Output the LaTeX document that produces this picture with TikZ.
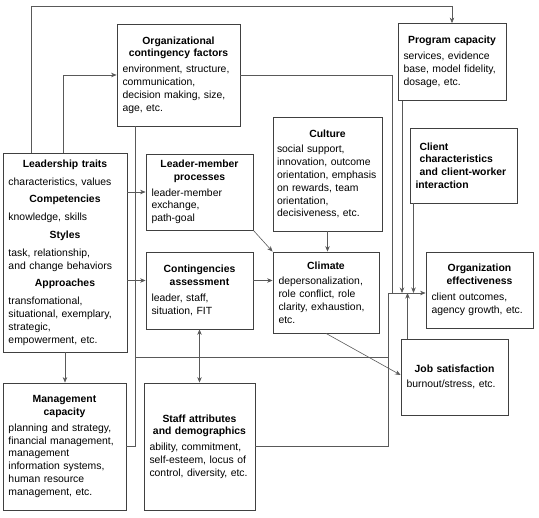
\documentclass[tikz,border=0pt]{standalone}
\usepackage{fontspec}
\setmainfont{Liberation Sans}
\usetikzlibrary{arrows.meta}
\newcommand{\hd}[1]{{\centering\bfseries #1\par}\vspace{3pt}}
\begin{document}
\begin{tikzpicture}[x=1pt,y=-1pt,
      >={Stealth[length=5.5pt,width=4.5pt]},
      box/.style={draw=black!75,line width=0.8pt,inner xsep=5.5pt,inner ysep=3pt,
        align=left,font=\fontsize{10.4}{12.8}\selectfont},
      link/.style={draw=black!65,line width=0.6pt}]
      \useasboundingbox (0,0) rectangle (539,518);
      \node[box,text width=112pt,minimum height=102pt] (ocf) at (178.5,75)
        {\hd{Organizational\\ contingency factors}environment, structure,\\ communication,\\ decision making, size,\\ age, etc.};
      \node[box,text width=97pt,minimum height=77pt] (pc) at (452,62)
        {\hd{Program capacity}services, evidence\\ base, model fidelity,\\ dosage, etc.};
      \node[box,inner xsep=4pt,text width=101pt,minimum height=114pt] (cult) at (327.5,174)
        {\hd{Culture}social support,\\ innovation, outcome\\ orientation, emphasis\\ on rewards, team\\ orientation,\\ decisiveness, etc.};
      \node[box,text width=95pt,minimum height=81pt] (clim) at (326,292.5)
        {\hd{Climate}depersonalization,\\ role conflict, role\\ clarity, exhaustion,\\ etc.};
      \node[box,text width=96pt,minimum height=75pt] (cc) at (463.5,165.5)
        {\leftskip=4pt\bfseries Client\\ characteristics\\ and client-worker\\ interaction};
      \node[box,text width=96pt,minimum height=76pt] (oe) at (479.5,290)
        {\hd{Organization\\ effectiveness}client outcomes,\\ agency growth, etc.};
      \node[box,text width=96pt,minimum height=76pt] (js) at (454.5,377)
        {\hd{Job satisfaction}\centering burnout/stress, etc.};
      \node[box,text width=113pt,minimum height=199pt] (lt) at (65,252.5)
        {\hd{Leadership traits}\vspace{2pt}characteristics, values\par\vspace{5pt}
         \hd{Competencies}\vspace{2pt}knowledge, skills\par\vspace{5pt}
         \hd{Styles}\vspace{2pt}task, relationship,\\ and change behaviors\par\vspace{5pt}
         \hd{Approaches}\vspace{2pt}transfomational,\\ situational, exemplary,\\ strategic,\\ empowerment, etc.};
      \node[box,text width=96pt,minimum height=76pt] (lmp) at (199.5,192)
        {\hd{Leader-member\\ processes}leader-member\\ exchange,\\ path-goal};
      \node[box,text width=96pt,minimum height=77pt] (ca) at (199.5,290.5)
        {\hd{Contingencies\\ assessment}leader, staff,\\ situation, FIT};
      \node[box,text width=112pt,minimum height=127pt] (mc) at (64.5,446.5)
        {\hd{Management\\ capacity}planning and strategy,\\ financial management,\\ management\\ information systems,\\ human resource\\ management, etc.};
      \node[box,text width=100pt,minimum height=127pt] (sa) at (199.5,446.5)
        {\hd{Staff attributes\\ and demographics}ability, commitment,\\ self-esteem, locus of\\ control, diversity, etc.};
      % meeting points of the connectors
      \coordinate (join) at (388,293);
      \coordinate (ltup) at (31,6);
      \coordinate (ocfdrop) at (392,293);
      \coordinate (midl) at (135,357);
      \coordinate (pcout) at ([xshift=-50pt]pc.south);
      \coordinate (ccout) at ([xshift=-50pt]cc.south);
      \coordinate (jsout) at ([xshift=-47pt]js.north);
      \coordinate (ocfout) at ([xshift=-43pt]ocf.south);
      \coordinate (ltout) at ([xshift=-2pt]lt.north);
      \coordinate (cain) at ([yshift=10pt]ca.west);
      \coordinate (caout) at ([yshift=10pt]ca.east);
      \coordinate (jsin) at ([yshift=2pt]js.west);
      \begin{scope}[link]
        \draw[->] (ltup |- lt.north) -- (ltup) -| (pc.north);
        \draw[->] (ltout) |- (ocf.west);
        \draw (ocf.east) -| (ocfdrop);
        \draw[->] (join) -- (join -| oe.west);
        \draw[->] (pcout) -- (pcout |- join);
        \draw[->] (ccout) -- (ccout |- join);
        \draw[->] (jsout) -- (jsout |- join);
        \draw (sa.east) -| (join);
        \draw (ocfout) |- (mc.east);
        \draw (midl) -- (midl -| join);
        \draw[->] (lt.south) -- (lt.south |- mc.north);
        \draw[->] (lt.east |- lmp.west) -- (lmp.west);
        \draw[->] (lt.east |- cain) -- (cain);
        \draw[->] (caout) -- (caout -| clim.west);
        \draw[->] (lmp.south east) -- (clim.north west);
        \draw[->] (cult.south) -- (cult.south |- clim.north);
        \draw[->] (clim.south) -- (jsin);
        \draw[<->] (ca.south) -- (sa.north);
      \end{scope}
    \end{tikzpicture}
\end{document}
